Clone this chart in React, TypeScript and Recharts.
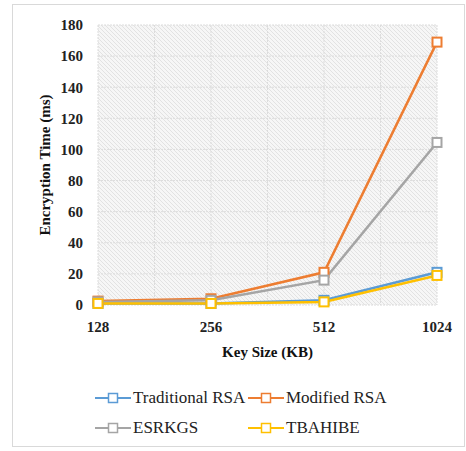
import { LineChart, Line, XAxis, YAxis, CartesianGrid } from "recharts";

const keySizes = ["128", "256", "512", "1024"];
const traditionalRsa = [1, 1, 3, 21];
const modifiedRsa = [2.5, 4, 21, 169];
const esrkgs = [2, 3, 16, 104.5];
const tbahibe = [1, 1, 2, 19];
const yTicks = [0, 20, 40, 60, 80, 100, 120, 140, 160, 180];

const series = [
  { key: "traditional", name: "Traditional RSA", values: traditionalRsa, color: "#5B9BD5" },
  { key: "modified", name: "Modified RSA", values: modifiedRsa, color: "#ED7D31" },
  { key: "esrkgs", name: "ESRKGS", values: esrkgs, color: "#A5A5A5" },
  { key: "tbahibe", name: "TBAHIBE", values: tbahibe, color: "#FFC000" },
];

const data = keySizes.map((k, i) => {
  const row: Record<string, string | number> = { name: k };
  series.forEach((s) => {
    row[s.key] = s.values[i];
  });
  return row;
});

const FONT = "'Liberation Serif', 'DejaVu Serif', serif";

// hollow square marker like Excel
const SquareDot = (props: any) => {
  const { cx, cy, stroke } = props;
  if (cx == null || cy == null) return null;
  return (
    <rect x={cx - 4.5} y={cy - 4.5} width={9} height={9} fill="#fff" stroke={stroke} strokeWidth={2} />
  );
};

const LegendIcon = ({ color }: { color: string }) => (
  <svg width={36} height={12} style={{ display: "block" }}>
    <line x1={0} y1={6} x2={36} y2={6} stroke={color} strokeWidth={2} />
    <rect x={13.5} y={1.5} width={9} height={9} fill="#fff" stroke={color} strokeWidth={1.5} />
  </svg>
);

export default function App() {
  return (
    <div
      style={{
        position: "absolute",
        left: 12,
        top: 4,
        width: 451,
        height: 441,
        border: "1px solid #d9d9d9",
        background: "#fff",
        fontFamily: FONT,
      }}
    >
      <LineChart
        width={451}
        height={362}
        data={data}
        margin={{ top: 20, right: 27, left: 25, bottom: 2 }}
        style={{ fontFamily: FONT }}
      >
        <defs>
          <pattern id="hatch" width={4} height={4} patternUnits="userSpaceOnUse">
            <rect width={4} height={4} fill="#f6f6f6" />
            <path d="M-1,-1 L5,5 M-1,3 L1,5 M3,-1 L5,1" stroke="#e2e2e2" strokeWidth={1} />
          </pattern>
        </defs>
        <CartesianGrid
          fill="url(#hatch)"
          stroke="#dcdcdc"
          strokeDasharray="2 1"
          verticalCoordinatesGenerator={({ offset }: any) =>
            [0, 1, 2, 3, 4, 5, 6].map((i) => offset.left + (offset.width * i) / 6)
          }
        />
        <XAxis
          dataKey="name"
          padding={{ left: 0, right: 0 }}
          axisLine={false}
          tickLine={false}
          tickMargin={10}
          height={60}
          interval={0}
          tick={{ fill: "#222", fontSize: 15, fontWeight: "bold", style: { fontFamily: FONT } }}
          label={{
            value: "Key Size (KB)",
            position: "insideBottom",
            offset: 8,
            style: { fill: "#111", fontSize: 15, fontWeight: "bold", fontFamily: FONT },
          }}
        />
        <YAxis
          domain={[0, 180]}
          ticks={yTicks}
          width={60}
          axisLine={false}
          tickLine={false}
          tickMargin={9}
          tick={{ fill: "#222", fontSize: 15, fontWeight: "bold", style: { fontFamily: FONT } }}
          label={{
            value: "Encryption Time (ms)",
            angle: -90,
            position: "insideLeft",
            offset: 7,
            style: { textAnchor: "middle", fill: "#111", fontSize: 15, fontWeight: "bold", fontFamily: FONT },
          }}
        />
        {series.map((s) => (
          <Line
            key={s.key}
            dataKey={s.key}
            name={s.name}
            type="linear"
            stroke={s.color}
            strokeWidth={2.5}
            dot={<SquareDot />}
            activeDot={false}
            isAnimationActive={false}
          />
        ))}
      </LineChart>
      <div
        style={{
          position: "absolute",
          left: 82,
          top: 383,
          display: "grid",
          gridTemplateColumns: "153px auto",
          rowGap: 11,
          fontSize: 17,
          color: "#222",
          fontFamily: FONT,
        }}
      >
        {series.map((s) => (
          <div key={s.key} style={{ display: "flex", alignItems: "center", height: 19 }}>
            <LegendIcon color={s.color} />
            <span style={{ marginLeft: 2 }}>{s.name}</span>
          </div>
        ))}
      </div>
    </div>
  );
}
